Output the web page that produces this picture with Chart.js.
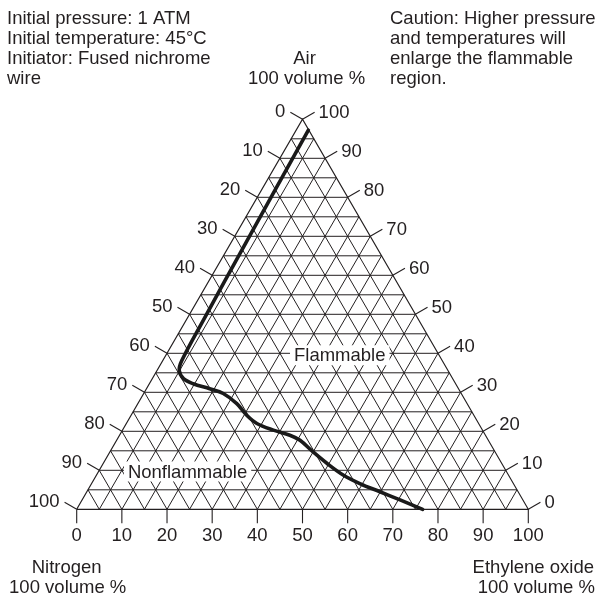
<!DOCTYPE html>
<html lang="en">
<head>
<meta charset="UTF-8">
<title>Ethylene oxide / nitrogen / air flammability diagram</title>
<script src="https://cdn.jsdelivr.net/npm/chart.js"></script>
<style>
    * { margin: 0; padding: 0; box-sizing: border-box; }
    body { background: #fff; width: 602px; height: 599px; overflow: hidden; }
    canvas { display: block; }
</style>
</head>
<body>
<canvas id="ternary" width="602" height="599"></canvas>
<script>
    // Axis ticks (volume %)
    const ethyleneTicks = [0, 10, 20, 30, 40, 50, 60, 70, 80, 90, 100];   // bottom
    const nitrogenTicks = [0, 10, 20, 30, 40, 50, 60, 70, 80, 90, 100];   // left side
    const airTicks = [100, 90, 80, 70, 60, 50, 40, 30, 20, 10, 0];         // right side
    const gridStep = 5;

    // Flammability boundary (ethylene oxide %, air %)
    const boundaryEO  = [2.7, 3.3, 3.8, 4.2, 4.9, 6.9, 9.7, 14.0, 17.6, 21.9, 25.6, 28.9, 33.4, 37.7, 40.6, 45.0, 49.5, 54.6, 59.4, 64.9, 70.4, 76.6];
    const boundaryAir = [97.2, 67.7, 48.4, 38.2, 35.6, 33.5, 32.2, 30.9, 29.7, 27.1, 24.1, 22.0, 20.3, 19.0, 17.7, 14.7, 11.8, 8.8, 6.6, 4.5, 2.4, 0];

    // Region names and where they sit (ethylene oxide %, air %)
    const regionNames = ['Flammable', 'Nonflammable'];
    const regionEO = [38.5, 19.7];
    const regionAir = [39.5, 9.7];

    const noteLeft = ['Initial pressure: 1 ATM', 'Initial temperature: 45\u00B0C', 'Initiator: Fused nichrome', 'wire'];
    const noteRight = ['Caution: Higher pressure', 'and temperatures will', 'enlarge the flammable', 'region.'];

    const H = Math.sqrt(3) / 2;
    function toXY(eo, air) {
        return { x: eo + air / 2, y: air * H };
    }

    // grid lines, broken with null points
    function gridLines() {
        const pts = [];
        for (let k = gridStep; k < 100; k += gridStep) {
            pts.push(toXY(0, k), toXY(100 - k, k), { x: null, y: null });        // constant air
            pts.push(toXY(k, 0), toXY(k, 100 - k), { x: null, y: null });        // constant ethylene oxide
            pts.push(toXY(100 - k, 0), toXY(0, 100 - k), { x: null, y: null });  // constant nitrogen
        }
        return pts;
    }

    const outline = [toXY(0, 0), toXY(100, 0), toXY(0, 100), toXY(0, 0)];
    const boundary = boundaryEO.map((eo, i) => toXY(eo, boundaryAir[i]));

    const FONT = '18.5px "Liberation Sans", Arial, Helvetica, sans-serif';
    const INK = '#231f20';

    const ternaryText = {
        id: 'ternaryText',
        afterDatasetsDraw(chart) {
            const ctx = chart.ctx;
            const xs = chart.scales.x, ys = chart.scales.y;
            const px = (eo, air) => {
                const p = toXY(eo, air);
                return [xs.getPixelForValue(p.x), ys.getPixelForValue(p.y)];
            };
            const seg = (x1, y1, x2, y2) => {
                ctx.beginPath(); ctx.moveTo(x1, y1); ctx.lineTo(x2, y2); ctx.stroke();
            };
            ctx.save();
            ctx.strokeStyle = INK;
            ctx.fillStyle = INK;
            ctx.lineWidth = 1.1;
            ctx.font = FONT;

            const tl = 14;
            const dx = tl * Math.cos(Math.PI / 6), dy = tl * Math.sin(Math.PI / 6);

            // bottom - ethylene oxide
            ctx.textAlign = 'center';
            ctx.textBaseline = 'middle';
            ethyleneTicks.forEach(v => {
                const [x, y] = px(v, 0);
                seg(x, y, x, y + tl);
                ctx.fillText(String(v), x, y + tl + 13);
            });

            // left - nitrogen
            ctx.textAlign = 'right';
            nitrogenTicks.forEach(v => {
                const [x, y] = px(0, 100 - v);
                seg(x, y, x - dx, y - dy);
                ctx.fillText(String(v), x - dx - 5, y - dy);
            });

            // right - air
            ctx.textAlign = 'left';
            airTicks.forEach(v => {
                const [x, y] = px(100 - v, v);
                seg(x, y, x + dx, y - dy);
                ctx.fillText(String(v), x + dx + 4, y - dy + 1);
            });

            // region names on white boxes
            ctx.textAlign = 'center';
            regionNames.forEach((name, i) => {
                const [x, y] = px(regionEO[i], regionAir[i]);
                const w = ctx.measureText(name).width + 8;
                ctx.fillStyle = '#fff';
                ctx.fillRect(x - w / 2, y - 10, w, 20);
                ctx.fillStyle = INK;
                ctx.fillText(name, x, y + 1);
            });

            // notes and corner titles
            ctx.textBaseline = 'alphabetic';
            ctx.textAlign = 'left';
            noteLeft.forEach((t, i) => ctx.fillText(t, 7, 24 + i * 20));
            noteRight.forEach((t, i) => ctx.fillText(t, 390, 24 + i * 20));

            ctx.textAlign = 'center';
            const [tx] = px(0, 100);
            ctx.fillText('Air', tx + 2, 64);
            ctx.fillText('100 volume %', tx + 4, 84);

            const [lx] = px(0, 0);
            ctx.fillText('Nitrogen', lx - 10, 573);
            ctx.fillText('100 volume %', lx - 9, 593);

            const [rx] = px(100, 0);
            ctx.fillText('Ethylene oxide', rx + 5, 573);
            ctx.fillText('100 volume %', rx + 8, 593);
            ctx.restore();
        }
    };

    new Chart(document.getElementById('ternary').getContext('2d'), {
        type: 'scatter',
        data: {
            datasets: [{
                label: 'Flammability boundary',
                data: boundary,
                showLine: true,
                borderColor: '#1a1a1a',
                borderWidth: 3.6,
                borderCapStyle: 'round',
                tension: 0.35,
                pointRadius: 0,
                clip: false
            }, {
                label: 'Outline',
                data: outline,
                showLine: true,
                borderColor: INK,
                borderWidth: 1.2,
                pointRadius: 0,
                clip: false
            }, {
                label: 'Grid',
                data: gridLines(),
                showLine: true,
                spanGaps: false,
                borderColor: INK,
                borderWidth: 1,
                pointRadius: 0,
                clip: false
            }]
        },
        options: {
            responsive: false,
            animation: false,
            layout: { padding: { left: 76.7, right: 73.7, top: 119.3, bottom: 89.7 } },
            scales: {
                x: { type: 'linear', min: 0, max: 100, display: false },
                y: { type: 'linear', min: 0, max: 100 * H, display: false }
            },
            plugins: {
                legend: { display: false },
                tooltip: { enabled: false }
            },
            events: []
        },
        plugins: [ternaryText]
    });
</script>
</body>
</html>
